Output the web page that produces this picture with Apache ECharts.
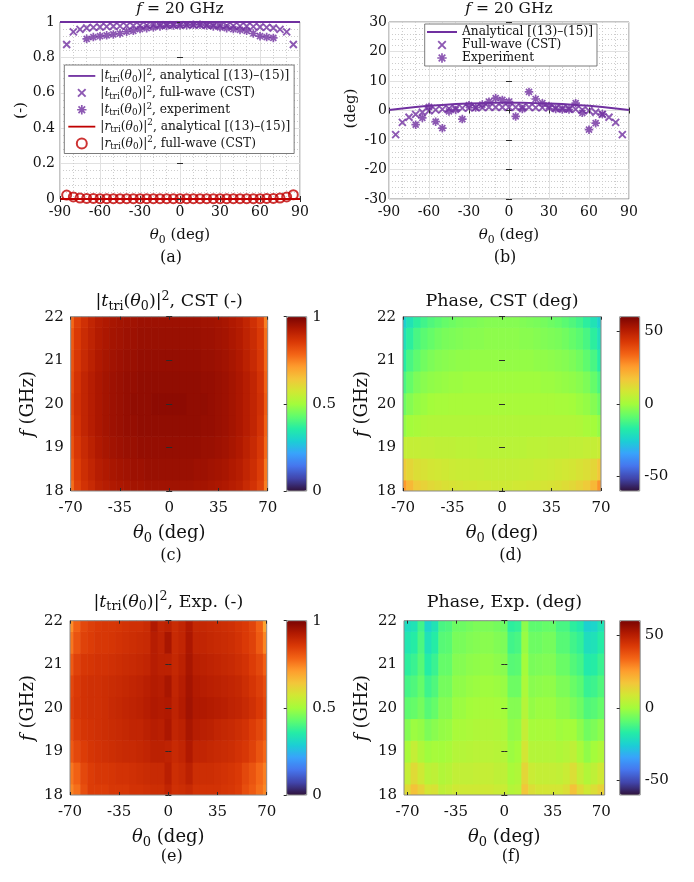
<!DOCTYPE html>
<html>
<head>
<meta charset="utf-8">
<title>Triangular structure: transmission and phase</title>
<script src="https://cdn.jsdelivr.net/npm/echarts@6.0.0/dist/echarts.min.js"></script>
<style>
  html, body { margin: 0; padding: 0; background: #ffffff; }
  #chart { width: 694px; height: 882px; }
</style>
</head>
<body>
<div id="chart"></div>
<script>
// ---------- angular cuts at f = 20 GHz ----------
const thetaLine = [-90, -80, -70, -60, -50, -40, -30, -20, -10, 0, 10, 20, 30, 40, 50, 60, 70, 80, 90];
const tAnalytical = [1, 1, 1, 1, 1, 1, 1, 1, 1, 1, 1, 1, 1, 1, 1, 1, 1, 1, 1];
const rAnalytical = [0, 0, 0, 0, 0, 0, 0, 0, 0, 0, 0, 0, 0, 0, 0, 0, 0, 0, 0];
const phaseAnalytical = [0.2, 0.7, 1.2, 1.6, 1.9, 2.2, 2.4, 2.5, 2.6, 2.6, 2.6, 2.5, 2.4, 2.2, 1.9, 1.6, 1.2, 0.7, 0.2];

const thetaCst = [-85, -80, -75, -70, -65, -60, -55, -50, -45, -40, -35, -30, -25, -20, -15, -10, -5, 0,
                  5, 10, 15, 20, 25, 30, 35, 40, 45, 50, 55, 60, 65, 70, 75, 80, 85];
const tCst = [0.873, 0.944, 0.958, 0.966, 0.970, 0.972, 0.974, 0.976, 0.977, 0.978, 0.979, 0.980, 0.981, 0.982,
              0.983, 0.983, 0.984, 0.984, 0.984, 0.983, 0.983, 0.982, 0.981, 0.980, 0.979, 0.978, 0.977, 0.976,
              0.974, 0.972, 0.970, 0.966, 0.958, 0.944, 0.873];
const rCst = [0.022, 0.012, 0.005, 0.003, 0.003, 0.002, 0.002, 0.002, 0.002, 0.002, 0.002, 0.002, 0.002, 0.002,
              0.002, 0.002, 0.002, 0.002, 0.002, 0.002, 0.002, 0.002, 0.002, 0.002, 0.002, 0.002, 0.002, 0.002,
              0.002, 0.002, 0.003, 0.003, 0.005, 0.012, 0.024];
const phaseCst = [-8.2, -4.0, -2.3, -1.3, -0.6, -0.1, 0.2, 0.4, 0.6, 0.7, 0.8, 0.9, 1.0, 1.0, 1.1, 1.1, 1.1, 1.1,
                  1.1, 1.1, 1.1, 1.0, 1.0, 0.9, 0.8, 0.7, 0.6, 0.4, 0.2, -0.1, -0.6, -1.3, -2.3, -4.0, -8.2];

const thetaExp = [-70, -65, -60, -55, -50, -45, -40, -35, -30, -25, -20, -15, -10, -5, 0,
                  5, 10, 15, 20, 25, 30, 35, 40, 45, 50, 55, 60, 65, 70];
const tExp = [0.905, 0.915, 0.920, 0.925, 0.930, 0.935, 0.945, 0.950, 0.960, 0.965, 0.970, 0.975, 0.978, 0.980, 0.980,
              0.982, 0.985, 0.985, 0.980, 0.975, 0.970, 0.965, 0.960, 0.955, 0.950, 0.935, 0.920, 0.915, 0.910];
const phaseExp = [-4.8, -2.5, 1.2, -3.8, -6.0, -0.3, 0.2, -2.9, 1.8, 1.0, 2.0, 3.0, 4.2, 3.6, 3.0,
                  -2.0, 0.5, 6.3, 3.9, 2.5, 1.5, 0.5, 0.3, 0.3, 2.5, -0.8, -6.5, -4.3, -1.2];

// ---------- frequency / angle maps (rows: f = 18 ... 22 GHz, columns: theta = -70 ... 70 deg) ----------
const mapTheta = [-70, -65, -60, -55, -50, -45, -40, -35, -30, -25, -20, -15, -10, -5, 0,
                  5, 10, 15, 20, 25, 30, 35, 40, 45, 50, 55, 60, 65, 70];
const mapFreq = [18, 18.5, 19, 19.5, 20, 20.5, 21, 21.5, 22];

const mapTCst = [
  [.77,.84,.87,.89,.91,.92,.93,.935,.94,.945,.945,.95,.95,.95,.95,.95,.95,.95,.945,.945,.94,.935,.93,.92,.91,.89,.87,.84,.75],
  [.79,.85,.88,.90,.92,.93,.94,.945,.95,.955,.955,.96,.96,.96,.96,.96,.96,.96,.955,.955,.95,.945,.94,.93,.92,.90,.88,.85,.76],
  [.81,.86,.89,.91,.93,.94,.95,.955,.96,.96,.965,.965,.965,.965,.965,.965,.965,.965,.965,.96,.96,.955,.95,.94,.93,.91,.89,.86,.78],
  [.82,.87,.90,.92,.935,.945,.955,.96,.965,.965,.97,.97,.97,.97,.97,.97,.97,.97,.97,.965,.965,.96,.955,.945,.935,.92,.90,.87,.79],
  [.83,.875,.90,.92,.935,.945,.955,.96,.965,.97,.97,.97,.975,.975,.975,.975,.975,.97,.97,.97,.965,.96,.955,.945,.935,.92,.90,.875,.80],
  [.82,.87,.90,.92,.935,.945,.955,.96,.965,.965,.97,.97,.97,.97,.97,.97,.97,.97,.97,.965,.965,.96,.955,.945,.935,.92,.90,.87,.79],
  [.81,.86,.89,.91,.93,.94,.95,.955,.96,.96,.965,.965,.965,.965,.965,.965,.965,.965,.965,.96,.96,.955,.95,.94,.93,.91,.89,.86,.78],
  [.80,.855,.885,.905,.925,.935,.945,.95,.955,.955,.96,.96,.96,.96,.96,.96,.96,.96,.96,.955,.955,.95,.945,.935,.925,.905,.885,.855,.77],
  [.78,.845,.875,.90,.92,.93,.94,.945,.95,.95,.955,.955,.955,.955,.955,.955,.955,.955,.955,.95,.95,.945,.94,.93,.92,.90,.875,.845,.75]
];
const mapPhaseCst = [
  [26,20,16,14,12.5,11.5,10.5,10,9.5,9,9,8.5,8.5,8,8,8,8.5,8.5,9,9,9.5,10,10.5,11.5,12.5,14,16,20,27],
  [16,13,11,10,9,8.5,8,7.5,7,7,6.5,6.5,6,6,6,6,6,6.5,6.5,7,7,7.5,8,8.5,9,10,11,13,17],
  [6,6,6,5.5,5.5,5,5,5,4.5,4.5,4.5,4,4,4,4,4,4,4,4.5,4.5,4.5,5,5,5,5.5,5.5,6,6,7],
  [-2,0,1,2,2.5,2.5,2.5,2.5,2.5,2.5,2.5,2.5,2.5,2.5,2.5,2.5,2.5,2.5,2.5,2.5,2.5,2.5,2.5,2.5,2.5,2,1,0,-2],
  [-7,-4,-2,-1,0,0.5,0.5,1,1,1,1,1,1,1,1,1,1,1,1,1,1,1,0.5,0.5,0,-1,-2,-4,-7],
  [-12,-8,-5,-3.5,-2.5,-2,-1.5,-1,-1,-0.5,-0.5,-0.5,-0.5,-0.5,-0.5,-0.5,-0.5,-0.5,-0.5,-0.5,-1,-1,-1.5,-2,-2.5,-3.5,-5,-8,-12],
  [-17,-12,-9,-6.5,-5,-4,-3.5,-3,-2.5,-2.5,-2,-2,-2,-2,-2,-2,-2,-2,-2,-2.5,-2.5,-3,-3.5,-4,-5,-6.5,-9,-12,-17],
  [-21,-16,-12,-9.5,-8,-6.5,-5.5,-5,-4.5,-4,-3.5,-3.5,-3,-3,-3,-3,-3,-3.5,-3.5,-4,-4.5,-5,-5.5,-6.5,-8,-9.5,-12,-16,-21],
  [-25,-20,-16,-13,-11,-9.5,-8,-7,-6,-5.5,-5,-4.5,-4,-4,-4,-4,-4,-4.5,-5,-5.5,-6,-7,-8,-9.5,-11,-13,-16,-20,-25]
];
const mapTExp = [
  [.74,.77,.82,.85,.85,.85,.86,.86,.86,.87,.87,.875,.88,.88,.90,.875,.88,.89,.87,.87,.87,.87,.865,.86,.85,.82,.80,.77,.74],
  [.76,.79,.83,.85,.86,.86,.865,.87,.87,.875,.88,.885,.89,.89,.915,.88,.89,.91,.88,.88,.88,.875,.87,.865,.855,.83,.81,.78,.75],
  [.80,.83,.85,.865,.87,.875,.88,.885,.89,.89,.895,.90,.91,.91,.905,.89,.90,.93,.90,.90,.895,.89,.885,.88,.87,.86,.84,.81,.78],
  [.82,.85,.865,.87,.875,.88,.885,.89,.895,.90,.90,.91,.92,.915,.935,.90,.91,.94,.92,.915,.91,.90,.895,.89,.88,.87,.85,.83,.80],
  [.84,.86,.87,.875,.875,.88,.89,.895,.90,.905,.91,.92,.93,.925,.93,.905,.925,.95,.93,.93,.925,.92,.915,.905,.90,.89,.875,.855,.83],
  [.83,.855,.87,.875,.875,.88,.885,.89,.895,.90,.905,.915,.925,.92,.94,.90,.92,.945,.925,.92,.915,.91,.905,.90,.895,.88,.865,.845,.82],
  [.80,.84,.86,.865,.87,.87,.875,.88,.885,.89,.895,.90,.92,.91,.91,.895,.91,.94,.915,.91,.905,.90,.895,.89,.88,.87,.85,.83,.79],
  [.76,.81,.84,.85,.86,.86,.865,.87,.875,.88,.885,.89,.92,.905,.94,.89,.90,.935,.90,.90,.895,.89,.885,.88,.87,.855,.84,.80,.74],
  [.73,.79,.83,.845,.855,.86,.86,.865,.87,.875,.875,.885,.93,.90,.91,.885,.90,.93,.895,.895,.89,.885,.88,.875,.865,.855,.835,.79,.70]
];
const mapPhaseExp = [
  [12,18,14,9,10,5,6,8,8,8,8,8,8,7,7,3,4,17,11,9,9,9,9,11,18,12,8,11,14],
  [6,12,8,4,5,2.5,3.5,5.5,5.5,5.5,6,6,6,5,5,1,2,13,7,6,6,6,5.5,7,11,6,2.5,5,8],
  [1,6,2,-0.5,0.5,0,1,3,3,3.5,4,4,4,3.5,3,-1,0,9,3,3,3,3,2,3,5,1,-2.5,0,2],
  [-4,-1,-2,-5,-3.5,-2,-1.5,1,1,1.5,2,2.5,2.5,2,1.5,-2.5,-2,6,0.5,1,1,1,-0.5,0,0,-3,-6.5,-5,-3],
  [-9,-8,-6,-10,-8,-4,-4,-1,-1,0,0.5,1,1,0.5,0,-4,-4,3,-2,-1,-1,-1,-3,-3,-5,-7,-11,-10,-8],
  [-12.5,-11,-8,-13.5,-11,-6,-6,-2.5,-2.5,-1.5,-1,-0.5,-0.5,-1,-1.5,-7,-7,1.5,-3.5,-3,-2.5,-2.5,-5,-5,-7.5,-9.5,-14.5,-13.5,-11],
  [-16,-14,-10,-17,-14,-8,-8,-4,-4,-3,-2.5,-2,-2,-3,-3.5,-10,-9.5,0,-5.5,-5,-4.5,-4.5,-7.5,-7.5,-10.5,-12.5,-18,-17,-14],
  [-19,-17,-11.5,-20.5,-17,-10,-9.5,-5.5,-5.5,-4.5,-4,-3.5,-3.5,-4.5,-5,-13,-12,-1.5,-7,-7,-6,-6,-10,-10,-13,-15,-21.5,-20.5,-17],
  [-22,-20,-13,-24,-20,-12,-11,-7,-7,-6,-5,-5,-5,-6,-7,-16,-15,-3,-9,-9,-8,-8,-12,-12,-16,-18,-25,-24,-20]
];

// ---------- styling ----------
const FONT = 'DejaVu Serif';
const INK = '#111111';
const BOX = '#8a8a8a';
const TICK = '#2b2b2b';
const PURPLE = '#7030A0';
const RED = '#C00000';
const CLEAR = 'rgba(0,0,0,0)';
const TURBO = ['#30123b', '#4145ab', '#4675ed', '#39a2fc', '#1bcfd4', '#24eca6', '#61fc6c', '#a4fc3b',
               '#d1e834', '#f3c63a', '#fe9b2d', '#f36315', '#d93806', '#b11901', '#7a0403'];

const X_MARK = 'path://M0,0L10,10M10,0L0,10';
const STAR_MARK = 'path://M5,0L5,10M0,5L10,5M1.46,1.46L8.54,8.54M8.54,1.46L1.46,8.54';
const X_ICON = 'path://M0,0M10,10M1.2,1.2L8.8,8.8M8.8,1.2L1.2,8.8';
const STAR_ICON = 'path://M0,0M10,10M5,0.3L5,9.7M0.3,5L9.7,5M1.7,1.7L8.3,8.3M8.3,1.7L1.7,8.3';
const LINE_ICON = 'path://M0,0H30V2H0Z';

// rich-text styles: roman, math italic, subscript, superscript
function richStyles(fs) {
  const s = Math.round(fs * 0.72 * 10) / 10;
  const lh = Math.round(fs * 1.3 * 10) / 10;
  const base = { fontFamily: FONT, color: INK, fill: INK };
  return {
    rm: Object.assign({}, base, { fontSize: fs, lineHeight: lh }),
    mi: Object.assign({}, base, { fontSize: fs, lineHeight: lh, fontStyle: 'italic' }),
    sb: Object.assign({}, base, { fontSize: s, lineHeight: s, verticalAlign: 'bottom' }),
    sp: Object.assign({}, base, { fontSize: s, lineHeight: s, verticalAlign: 'top' })
  };
}
const T_TRI = '{rm||}{mi|t}{sb|tri}{rm|(}{mi|θ}{sb|0}{rm|)|}{sp|2}';
const R_TRI = '{rm||}{mi|r}{sb|tri}{rm|(}{mi|θ}{sb|0}{rm|)|}{sp|2}';
const THETA_DEG = '{mi|θ}{sb|0}{rm| (deg)}';
const F_GHZ = '{mi|f}{rm| (GHz)}';

const legendText = {
  tAnalytical: T_TRI + '{rm|, analytical [(13)–(15)]}',
  tCst: T_TRI + '{rm|, full-wave (CST)}',
  tExp: T_TRI + '{rm|, experiment}',
  rAnalytical: R_TRI + '{rm|, analytical [(13)–(15)]}',
  rCst: R_TRI + '{rm|, full-wave (CST)}',
  phAnalytical: '{rm|Analytical [(13)–(15)]}',
  phCst: '{rm|Full-wave (CST)}',
  phExp: '{rm|Experiment}'
};

// ---------- grids and boxed axes ----------
const grid = [], xAxis = [], yAxis = [];

function scaleAxis(gi, s, pos, lab) {
  const ax = {
    gridIndex: gi, type: 'value', position: pos,
    min: s.min, max: s.max,
    axisLine: { show: false },
    axisTick: { show: true, inside: true, length: 3, lineStyle: { color: TICK, width: 1 } },
    axisLabel: { show: !!lab },
    splitLine: { show: false },
    z: 10
  };
  if (s.interval != null) ax.interval = s.interval;
  if (s.ticks) { ax.axisTick.customValues = s.ticks; ax.axisLabel.customValues = s.ticks; }
  if (lab) {
    Object.assign(ax.axisLabel, { fontFamily: FONT, fontSize: lab.size, color: INK, margin: lab.margin });
    if (s.minor) {
      ax.splitLine = { show: true, lineStyle: { color: '#e1e1e1', width: 1 } };
      ax.minorTick = { show: false, splitNumber: s.minor };
      ax.minorSplitLine = { show: true, lineStyle: { color: '#cdcdcd', width: 1, type: [1, 2] } };
      ax.z = 0;
    }
  }
  return ax;
}

function panel(rect, xs, ys, xLab, yLab, onTop) {
  const gi = grid.length;
  grid.push(Object.assign({
    show: true, borderColor: BOX, borderWidth: 1, backgroundColor: CLEAR,
    containLabel: false, outerBoundsMode: 'none', z: onTop ? 10 : 0
  }, rect));
  const xi = xAxis.length, yi = yAxis.length;
  xAxis.push(scaleAxis(gi, xs, 'bottom', xLab), scaleAxis(gi, xs, 'top', null));
  yAxis.push(scaleAxis(gi, ys, 'left', yLab), scaleAxis(gi, ys, 'right', null));
  return { x: xi, y: yi };
}

function colorbarAxes(rect, s, lab) {
  const gi = grid.length;
  grid.push(Object.assign({
    show: true, borderColor: BOX, borderWidth: 1, backgroundColor: CLEAR,
    containLabel: false, outerBoundsMode: 'none', z: 10
  }, rect));
  xAxis.push({ gridIndex: gi, type: 'value', show: false, min: 0, max: 1 });
  yAxis.push(scaleAxis(gi, s, 'right', lab));
}

const thetaFull = { min: -90, max: 90, interval: 30, minor: 3 };
const ampScale = { min: 0, max: 1, interval: 0.2, minor: 5 };
const phaseScale = { min: -30, max: 30, interval: 10, minor: 5 };
const thetaMap = { min: -70, max: 70, interval: 35 };
const thetaMapWide = { min: -72.5, max: 72.5, ticks: [-70, -35, 0, 35, 70] };
const freqScale = { min: 18, max: 22, interval: 1 };
const cbAmp = { min: 0, max: 1, interval: 0.5 };
const cbPhase = { min: -60, max: 60, ticks: [-50, 0, 50] };

const smallX = { size: 14, margin: 6.5 };
const bigX = { size: 15, margin: 10 };
const bigY = { size: 15, margin: 7 };

const rectA = { left: 60, top: 22, width: 240, height: 177 };
const rectB = { left: 389, top: 22, width: 240, height: 177 };
const rectC = { left: 70.7, top: 316.7, width: 197, height: 174.3 };
const rectD = { left: 403, top: 316.7, width: 198, height: 174.3 };
const rectE = { left: 70, top: 620.7, width: 196.7, height: 174.3 };
const rectF = { left: 404, top: 620.7, width: 200.7, height: 174.3 };
const cbC = { left: 286.7, top: 316.7, width: 20, height: 174.3 };
const cbD = { left: 619.7, top: 316.7, width: 20, height: 174.3 };
const cbE = { left: 286.7, top: 620.7, width: 20, height: 174.3 };
const cbF = { left: 619.7, top: 620.7, width: 20.5, height: 174.3 };

const A = panel(rectA, thetaFull, ampScale, smallX, { size: 14, margin: 5 }, false);
const B = panel(rectB, thetaFull, phaseScale, smallX, { size: 14, margin: 2 }, false);
const C = panel(rectC, thetaMap, freqScale, bigX, bigY, true);
const D = panel(rectD, thetaMap, freqScale, bigX, bigY, true);
const E = panel(rectE, thetaMap, freqScale, bigX, bigY, true);
const F = panel(rectF, thetaMapWide, freqScale, bigX, bigY, true);
colorbarAxes(cbC, cbAmp, { size: 15, margin: 5.5 });
colorbarAxes(cbD, cbPhase, { size: 15, margin: 4.5 });
colorbarAxes(cbE, cbAmp, { size: 15, margin: 5.5 });
colorbarAxes(cbF, cbPhase, { size: 15, margin: 4.5 });

// ---------- series ----------
const pair = (xs, ys) => xs.map((x, i) => [x, ys[i]]);

function lineSeries(name, ax, xs, ys, color) {
  return {
    name, type: 'line', xAxisIndex: ax.x, yAxisIndex: ax.y, data: pair(xs, ys),
    symbol: 'none', showSymbol: false, lineStyle: { color, width: 2 }, itemStyle: { color },
    clip: false, z: 3, silent: true, emphasis: { disabled: true }
  };
}
function markSeries(name, ax, xs, ys, symbol, size, color, width) {
  return {
    name, type: 'scatter', xAxisIndex: ax.x, yAxisIndex: ax.y, data: pair(xs, ys),
    symbol, symbolSize: size,
    itemStyle: { color: CLEAR, borderColor: color, borderWidth: width },
    clip: false, z: 4, silent: true, emphasis: { disabled: true }
  };
}

const halfTheta = (mapTheta[1] - mapTheta[0]) / 2;
const halfFreq = (mapFreq[1] - mapFreq[0]) / 2;
function renderCell(params, api) {
  const t = api.value(0), f = api.value(1);
  const p0 = api.coord([t - halfTheta, f + halfFreq]);
  const p1 = api.coord([t + halfTheta, f - halfFreq]);
  const cs = params.coordSys;
  const shape = echarts.graphic.clipRectByRect(
    { x: p0[0] - 0.3, y: p0[1] - 0.3, width: p1[0] - p0[0] + 0.6, height: p1[1] - p0[1] + 0.6 },
    { x: cs.x, y: cs.y, width: cs.width, height: cs.height }
  );
  if (!shape) return null;
  return { type: 'rect', shape, style: { fill: api.visual('color') } };
}
function mapSeries(name, ax, matrix) {
  const data = [];
  mapFreq.forEach((f, i) => mapTheta.forEach((t, j) => data.push([t, f, matrix[i][j]])));
  return {
    name, type: 'custom', xAxisIndex: ax.x, yAxisIndex: ax.y, data,
    renderItem: renderCell, silent: true, z: 2
  };
}

const series = [
  lineSeries('tAnalytical', A, thetaLine, tAnalytical, PURPLE),
  lineSeries('rAnalytical', A, thetaLine, rAnalytical, RED),
  markSeries('tCst', A, thetaCst, tCst, X_MARK, 7, PURPLE, 1.9),
  markSeries('tExp', A, thetaExp, tExp, STAR_MARK, 8.5, PURPLE, 1.7),
  markSeries('rCst', A, thetaCst, rCst, 'circle', 9, RED, 2),
  lineSeries('phAnalytical', B, thetaLine, phaseAnalytical, PURPLE),
  markSeries('phCst', B, thetaCst, phaseCst, X_MARK, 7, PURPLE, 1.9),
  markSeries('phExp', B, thetaExp, phaseExp, STAR_MARK, 8.5, PURPLE, 1.7),
  mapSeries('mapTCst', C, mapTCst),
  mapSeries('mapPhaseCst', D, mapPhaseCst),
  mapSeries('mapTExp', E, mapTExp),
  mapSeries('mapPhaseExp', F, mapPhaseExp)
];

function colorScale(seriesIndex, s, rect) {
  return {
    type: 'continuous', seriesIndex, dimension: 2, min: s.min, max: s.max,
    inRange: { color: TURBO }, orient: 'vertical',
    left: rect.left, top: rect.top, itemWidth: rect.width, itemHeight: rect.height,
    padding: 0, calculable: false, hoverLink: false, realtime: false, z: 4
  };
}

// ---------- legends ----------
const markStyle = (color, w) => ({ color: CLEAR, borderColor: color, borderWidth: w });
const legend = [
  {
    left: 64.3, top: 65, orient: 'vertical', padding: [3, 4, 2, 4], itemGap: 1,
    itemWidth: 27, itemHeight: 10, backgroundColor: '#ffffff', borderColor: '#5a5a5a', borderWidth: 0.8,
    selectedMode: false, formatter: n => legendText[n], textStyle: { rich: richStyles(12.2) },
    data: [
      { name: 'tAnalytical', icon: LINE_ICON, itemStyle: { color: PURPLE, borderWidth: 0 } },
      { name: 'tCst', icon: X_ICON, itemStyle: markStyle(PURPLE, 1.9) },
      { name: 'tExp', icon: STAR_ICON, itemStyle: markStyle(PURPLE, 1.7) },
      { name: 'rAnalytical', icon: LINE_ICON, itemStyle: { color: RED, borderWidth: 0 } },
      { name: 'rCst', icon: 'circle', itemStyle: markStyle(RED, 2) }
    ]
  },
  {
    left: 424.7, top: 24, orient: 'vertical', padding: [2, 4, 2, 2.3], itemGap: 1,
    itemWidth: 30, itemHeight: 10, backgroundColor: '#ffffff', borderColor: '#5a5a5a', borderWidth: 0.8,
    selectedMode: false, formatter: n => legendText[n], textStyle: { rich: richStyles(12.2) },
    data: [
      { name: 'phAnalytical', icon: LINE_ICON, itemStyle: { color: PURPLE, borderWidth: 0 } },
      { name: 'phCst', icon: X_ICON, itemStyle: markStyle(PURPLE, 1.9) },
      { name: 'phExp', icon: STAR_ICON, itemStyle: markStyle(PURPLE, 1.7) }
    ]
  }
];

// ---------- titles, axis names, panel letters ----------
function label(x, y, text, fs, rotated) {
  return {
    type: 'text', x, y, rotation: rotated ? Math.PI / 2 : 0, silent: true, z: 20,
    style: { text, rich: richStyles(fs), align: 'center', verticalAlign: 'middle' }
  };
}
const texts = [
  label(180, 8.5, '{mi|f}{rm| = 20 GHz}', 15.5),
  label(509, 8.5, '{mi|f}{rm| = 20 GHz}', 15.5),
  label(20.7, 110.5, '{rm|(-)}', 15, true),
  label(351.5, 108.5, '{rm|(deg)}', 15, true),
  label(180, 235.5, THETA_DEG, 15),
  label(509, 235.5, THETA_DEG, 15),
  label(171, 257.5, '{rm|(a)}', 16),
  label(505, 257.5, '{rm|(b)}', 16),

  label(169.2, 301.5, T_TRI + '{rm|, CST (-)}', 17.5),
  label(502, 301.5, '{rm|Phase, CST (deg)}', 17.5),
  label(169.2, 533.5, THETA_DEG, 18),
  label(502, 533.5, THETA_DEG, 18),
  label(28.3, 404, F_GHZ, 18, true),
  label(362.5, 404, F_GHZ, 18, true),
  label(171, 555.5, '{rm|(c)}', 16),
  label(510.7, 555.5, '{rm|(d)}', 16),

  label(168.3, 602, T_TRI + '{rm|, Exp. (-)}', 17.5),
  label(504.3, 602, '{rm|Phase, Exp. (deg)}', 17.5),
  label(168.3, 837, THETA_DEG, 18),
  label(504.3, 837, THETA_DEG, 18),
  label(28.3, 708, F_GHZ, 18, true),
  label(362.5, 708, F_GHZ, 18, true),
  label(171.7, 857, '{rm|(e)}', 16),
  label(511, 857, '{rm|(f)}', 16)
];

const chart = echarts.init(document.getElementById('chart'), null, { renderer: 'canvas' });
chart.setOption({
  animation: false,
  backgroundColor: '#ffffff',
  textStyle: { fontFamily: FONT },
  grid, xAxis, yAxis, series, legend,
  visualMap: [
    colorScale(8, cbAmp, cbC),
    colorScale(9, cbPhase, cbD),
    colorScale(10, cbAmp, cbE),
    colorScale(11, cbPhase, cbF)
  ],
  graphic: { elements: texts }
});
</script>
</body>
</html>
